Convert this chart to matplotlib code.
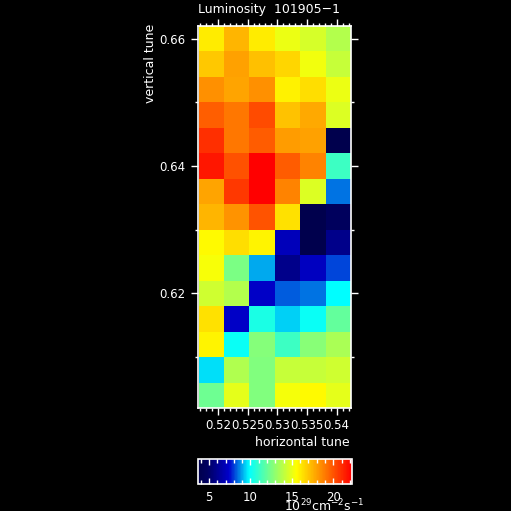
import numpy as np
import matplotlib
matplotlib.use("Agg")
import matplotlib.pyplot as plt
from matplotlib.colors import LinearSegmentedColormap
from matplotlib.ticker import MultipleLocator, FuncFormatter, FixedLocator

# ---- data ----
h_tune = [0.5189, 0.5232, 0.5274, 0.5317, 0.5360, 0.5403]
v_tune = [0.604, 0.608, 0.612, 0.616, 0.620, 0.624, 0.628, 0.632,
          0.636, 0.640, 0.644, 0.648, 0.652, 0.656, 0.660]
# luminosity [1e29 cm^-2 s^-1], rows from bottom (v=0.604) to top (v=0.660)
lum = [
    [12.2, 14.95, 12.6, 15.3, 15.66, 14.95],
    [9.5, 13.7, 12.6, 14.25, 14.25, 14.4],
    [15.8, 10.0, 12.7, 11.1, 12.75, 13.55],
    [16.3, 7.26, 10.4, 9.4, 10.0, 12.0],
    [14.4, 13.8, 7.26, 8.3, 8.5, 9.8],
    [15.4, 12.5, 9.0, 5.8, 7.1, 8.1],
    [15.66, 16.4, 15.8, 6.97, 3.7, 5.8],
    [17.5, 18.3, 19.98, 16.3, 3.7, 4.6],
    [17.9, 20.75, 22.2, 18.8, 14.7, 8.5],
    [21.55, 20.1, 22.2, 19.8, 18.8, 11.1],
    [20.9, 19.05, 19.8, 18.15, 18.0, 3.77],
    [19.7, 19.05, 20.2, 17.1, 17.75, 14.7],
    [18.4, 17.9, 18.4, 15.9, 16.4, 15.07],
    [16.97, 18.0, 17.2, 16.6, 15.2, 14.25],
    [16.05, 17.5, 16.05, 15.07, 14.6, 13.8],
]
cbar_ticks = [5, 10, 15, 20]

# ---- style ----
W = H = 511
fig = plt.figure(figsize=(W / 100, H / 100), dpi=100, facecolor="black")
plt.rcParams["font.family"] = ["DejaVu Sans"]

cmap = LinearSegmentedColormap.from_list("idl", [
    (0.00, (0.0, 0.0, 0.30)),
    (0.06, (0.0, 0.0, 0.38)),
    (0.20, (0.0, 0.0, 0.80)),
    (0.33, (0.0, 1.0, 1.0)),
    (0.48, (0.5, 1.0, 0.5)),
    (0.64, (1.0, 1.0, 0.0)),
    (1.00, (1.0, 0.0, 0.0)),
])

def px(x0, y0, x1, y1):
    return [x0 / W, 1 - y1 / H, (x1 - x0) / W, (y1 - y0) / H]

ax = fig.add_axes(px(198.3, 26, 351, 408))
ax.set_facecolor("black")
Z = np.array(lum)
mesh = ax.pcolormesh(h_tune, v_tune, Z, cmap=cmap, shading="nearest")
ax.set_xlim(0.5167, 0.5424)
ax.set_ylim(0.602, 0.662)

fmt = FuncFormatter(lambda v, p: "%g" % round(v, 4))
ax.xaxis.set_major_locator(MultipleLocator(0.005))
ax.xaxis.set_minor_locator(MultipleLocator(0.001))
ax.yaxis.set_major_locator(MultipleLocator(0.02))
ax.yaxis.set_minor_locator(MultipleLocator(0.01))
ax.xaxis.set_major_formatter(fmt)
ax.yaxis.set_major_formatter(fmt)
ax.tick_params(which="both", direction="out", top=True, right=True,
               colors="white", labelsize=8.5, width=1)
ax.tick_params(which="major", length=4.7)
ax.tick_params(which="minor", length=2.5)
ax.tick_params(axis="x", pad=3.5)
ax.tick_params(axis="y", pad=4.5)
for s in ax.spines.values():
    s.set_color("white")
    s.set_linewidth(1.2)

fig.text(198 / W, 1 - 10 / H, "Luminosity  101905\u22121", color="white",
         fontsize=9, ha="left", va="center")
fig.text(151 / W, 1 - 63 / H, "vertical tune", color="white", fontsize=9,
         rotation=90, ha="center", va="center")
fig.text(350 / W, 1 - 442 / H, "horizontal tune", color="white", fontsize=9,
         ha="right", va="center")

cax = fig.add_axes(px(198.3, 459, 351.5, 484))
cb = fig.colorbar(mesh, cax=cax, orientation="horizontal")
cb.set_ticks(cbar_ticks)
cb.ax.xaxis.set_minor_locator(MultipleLocator(1))
cb.outline.set_edgecolor("white")
cb.outline.set_linewidth(1.2)
cb.ax.tick_params(which="both", direction="in", top=True, bottom=True,
                  colors="white", labelsize=8.5, pad=5, width=1)
cb.ax.tick_params(which="major", length=4)
cb.ax.tick_params(which="minor", length=2.7)
fig.text(284 / W, 1 - 511.5 / H, r"$10^{29}$cm$^{-2}$s$^{-1}$", color="white",
         fontsize=9, ha="left", va="baseline")

fig.savefig("out.png", dpi=100, facecolor="black")
